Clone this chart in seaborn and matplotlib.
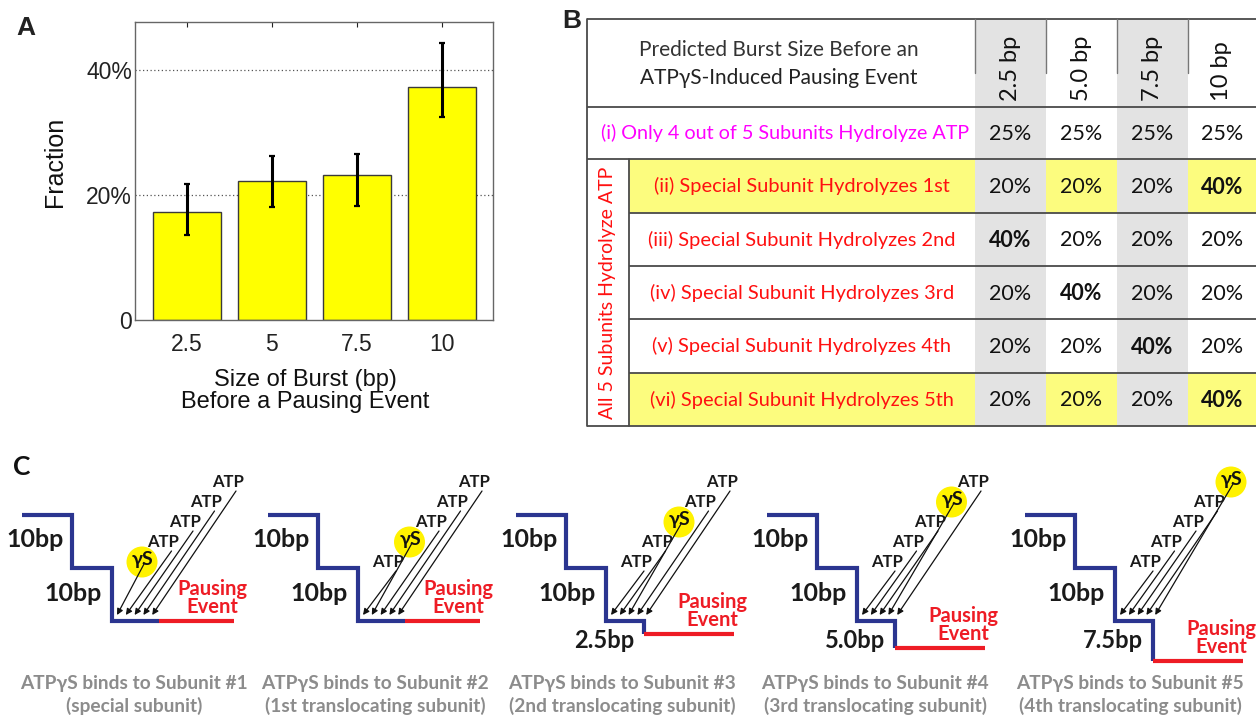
import numpy as np
import pandas as pd
import matplotlib
matplotlib.use("Agg")
import matplotlib.pyplot as plt
import seaborn as sns
from matplotlib.patches import Rectangle, Circle

# ---------------- data ----------------
# Panel A: measured burst-size distribution before a pausing event
burst_sizes = ["2.5", "5", "7.5", "10"]
fraction = [0.173, 0.222, 0.232, 0.373]
ci_low = [0.136, 0.181, 0.183, 0.325]
ci_high = [0.217, 0.263, 0.266, 0.444]

# Panel B: predicted burst-size fractions for each hydrolysis scenario
table_columns = ["2.5 bp", "5.0 bp", "7.5 bp", "10 bp"]
table_title = ["Predicted Burst Size Before an", "ATPγS-Induced Pausing Event"]
scenario_labels = [
    "(i) Only 4 out of 5 Subunits Hydrolyze ATP",
    "(ii) Special Subunit Hydrolyzes 1st",
    "(iii) Special Subunit Hydrolyzes 2nd",
    "(iv) Special Subunit Hydrolyzes 3rd",
    "(v) Special Subunit Hydrolyzes 4th",
    "(vi) Special Subunit Hydrolyzes 5th",
]
group_label = "All 5 Subunits Hydrolyze ATP"
predicted_pct = [
    [25, 25, 25, 25],
    [20, 20, 20, 40],
    [40, 20, 20, 20],
    [20, 40, 20, 20],
    [20, 20, 40, 20],
    [20, 20, 20, 40],
]
highlighted_rows = [1, 5]

# Panel C: step schematics, ATPγS bound to subunit 1..5
step_bp = 10.0
gamma_s_slot = [0, 1, 2, 3, 4]
final_burst_bp = [0.0, 0.0, 2.5, 5.0, 7.5]
burst_labels = ["", "", "2.5bp", "5.0bp", "7.5bp"]
captions_top = [f"ATPγS binds to Subunit #{i}" for i in range(1, 6)]
captions_bottom = ["(special subunit)", "(1st translocating subunit)",
                   "(2nd translocating subunit)", "(3rd translocating subunit)",
                   "(4th translocating subunit)"]

# ---------------- figure ----------------
W, H = 1256, 717
sns.set_theme(style="white")
plt.rcParams["font.family"] = ["Liberation Sans", "DejaVu Sans"]
fig = plt.figure(figsize=(W / 100, H / 100), dpi=100)


def px_axes(x0, y0, x1, y1, **kw):
    return fig.add_axes([x0 / W, 1 - y1 / H, (x1 - x0) / W, (y1 - y0) / H], **kw)


canvas = px_axes(0, 0, W, H, zorder=0)
canvas.set_xlim(0, W)
canvas.set_ylim(H, 0)
canvas.axis("off")

CAL = ["Lato", "DejaVu Sans"]

# ---------------- panel A ----------------
ax = px_axes(135, 22, 493, 320, zorder=2)
df = pd.DataFrame({"burst": burst_sizes, "fraction": fraction})
sns.barplot(data=df, x="burst", y="fraction", color="#ffff00", saturation=1,
            edgecolor="#3a3a3a", linewidth=1.0, width=0.8, errorbar=None,
            ax=ax, zorder=2)
xpos = np.arange(len(burst_sizes))
f = np.asarray(fraction)
ax.errorbar(xpos, f, yerr=[f - np.asarray(ci_low), np.asarray(ci_high) - f],
            fmt="none", ecolor="black", elinewidth=2.2, capsize=2.5,
            capthick=1.6, zorder=3)
for yv in (0.2, 0.4):
    ax.axhline(yv, color="#555555", lw=0.9, ls=(0, (1, 2)), zorder=1)
ax.set_xlim(-0.61, 3.6)
ax.set_ylim(0, 0.477)
ax.set_yticks([0, 0.2, 0.4])
ax.set_yticklabels(["0", "20%", "40%"])
ax.tick_params(axis="both", direction="in", length=3.5, width=0.8,
               colors="#222222", labelsize=16.5, top=True, right=False)
ax.tick_params(axis="x", pad=9)
ax.tick_params(axis="y", pad=2)
for sp in ax.spines.values():
    sp.set_color("#666666")
    sp.set_linewidth(1.0)
ax.set_ylabel("Fraction", fontsize=18, color="#111111")
ax.yaxis.set_label_coords(-0.19, 0.53)
ax.set_xlabel("Size of Burst (bp)\nBefore a Pausing Event", fontsize=17,
              color="#111111", linespacing=1.05)
ax.xaxis.set_label_coords(0.475, -0.163)
ax.xaxis.label.set_va("top")

canvas.text(26, 28, "A", fontsize=19, fontweight="bold", ha="center",
            va="center", color="#222222")

# ---------------- panel B ----------------
t_left, t_right, lab_split = 587, 1256, 629
col_edges = [975, 1046, 1117, 1188, 1256]
row_edges = [19, 107, 159, 213, 266, 319, 373, 426]
grey, yellow, line_c = "#e3e3e3", "#fcfc7e", "#4a4a4a"

for r in highlighted_rows:
    y0, y1 = row_edges[r + 1], row_edges[r + 2]
    canvas.add_patch(Rectangle((lab_split, y0), col_edges[0] - lab_split, y1 - y0,
                               color=yellow, lw=0, zorder=1))
    for c in (1, 3):
        canvas.add_patch(Rectangle((col_edges[c], y0), col_edges[c + 1] - col_edges[c],
                                   y1 - y0, color=yellow, lw=0, zorder=1))
for c in (0, 2):
    canvas.add_patch(Rectangle((col_edges[c], row_edges[0]), col_edges[c + 1] - col_edges[c],
                               row_edges[-1] - row_edges[0], color=grey, lw=0, zorder=1))

for k, y in enumerate(row_edges):
    x_start = t_left if k in (0, 1, 2, len(row_edges) - 1) else lab_split
    canvas.plot([x_start, t_right], [y, y], color=line_c, lw=1.3, zorder=3,
                solid_capstyle="butt")
canvas.plot([t_left, t_left], [row_edges[0], row_edges[-1]], color=line_c, lw=1.3, zorder=3)
canvas.plot([lab_split, lab_split], [row_edges[2], row_edges[-1]], color=line_c, lw=1.3, zorder=3)
for x in col_edges[:-1]:
    canvas.plot([x, x], [row_edges[0], 73], color="#777777", lw=1.0, zorder=3)

canvas.text((t_left + col_edges[0]) / 2 - 2, 50, table_title[0], family=CAL, fontsize=15,
            ha="center", va="center", color="#333333", zorder=4)
canvas.text((t_left + col_edges[0]) / 2 - 2, 78, table_title[1], family=CAL, fontsize=15,
            ha="center", va="center", color="#222222", zorder=4)
for c, lab in enumerate(table_columns):
    cx = (col_edges[c] + col_edges[c + 1]) / 2 if c < 3 else 1222
    canvas.text(cx, 101, lab, family=CAL, fontsize=17, rotation=90, ha="center",
                va="bottom", color="#111111", zorder=4)

for r, lab in enumerate(scenario_labels):
    yc = (row_edges[r + 1] + row_edges[r + 2]) / 2
    if r == 0:
        canvas.text(785, yc, lab, family=CAL, fontsize=14.2, ha="center", va="center",
                    color="#ff00ff", zorder=4)
    else:
        canvas.text((lab_split + col_edges[0]) / 2, yc, lab, family=CAL, fontsize=14.4,
                    ha="center", va="center", color="#ff1010", zorder=4)
    for c, v in enumerate(predicted_pct[r]):
        cx = (col_edges[c] + col_edges[c + 1]) / 2 if c < 3 else 1222
        canvas.text(cx, yc + 1, f"{v}%", family=CAL, fontsize=15.5,
                    fontweight="bold" if v == 40 else "normal",
                    ha="center", va="center", color="#111111", zorder=4)
canvas.text((t_left + lab_split) / 2, (row_edges[2] + row_edges[-1]) / 2, group_label,
            family=CAL, fontsize=14, rotation=90, ha="center", va="center",
            color="#ff1010", zorder=4)
canvas.text(572, 21, "B", fontsize=19, fontweight="bold", ha="center", va="center",
            color="#222222")

# ---------------- panel C ----------------
panel_x0 = [22, 268, 516, 767, 1025]
caption_x = [134, 375, 622, 875, 1130]
top_y, px_per_bp = 515, 5.3
blue, red = "#2b3590", "#ee1c25"

for i in range(5):
    x0 = panel_x0[i]
    y_mid = top_y + step_bp * px_per_bp
    y_low = top_y + 2 * step_bp * px_per_bp
    burst = final_burst_bp[i]
    if burst > 0:
        x_end = x0 + 128
        y_end = y_low + burst * px_per_bp
        xs = [x0, x0 + 50, x0 + 50, x0 + 90, x0 + 90, x_end, x_end]
        ys = [top_y, top_y, y_mid, y_mid, y_low, y_low, y_end]
        red_len = 90
    else:
        x_end = x0 + 137
        y_end = y_low
        xs = [x0, x0 + 50, x0 + 50, x0 + 90, x0 + 90, x_end]
        ys = [top_y, top_y, y_mid, y_mid, y_low, y_low]
        red_len = 75
    canvas.plot(xs, ys, color=blue, lw=3.0, solid_joinstyle="miter",
                solid_capstyle="butt", zorder=3)
    canvas.plot([x_end, x_end + red_len], [y_end, y_end], color=red, lw=3.0,
                solid_capstyle="butt", zorder=3)

    bold = dict(family=CAL, fontweight="bold", zorder=5)
    canvas.text(x0 + 42, top_y + step_bp * px_per_bp / 2 - 2, "10bp", fontsize=18,
                ha="right", va="center", color="#1a1a1a", **bold)
    canvas.text(x0 + 80, y_mid + step_bp * px_per_bp / 2 - 1, "10bp", fontsize=18,
                ha="right", va="center", color="#1a1a1a", **bold)
    if burst_labels[i]:
        canvas.text(x_end - 10, y_low + 20, burst_labels[i], fontsize=17,
                    ha="right", va="center", color="#1a1a1a", **bold)
    canvas.text(x_end + red_len - 22, y_end - 32, "Pausing", fontsize=14.5,
                ha="center", va="center", color=red, **bold)
    canvas.text(x_end + red_len - 22, y_end - 14, "Event", fontsize=14.5,
                ha="center", va="center", color=red, **bold)

    cx, cy = x0 + 90, y_low
    for k in range(5):
        tip = (cx + 5 + 8.8 * k, cy - 6)
        lab = (cx + 30 + 21.5 * k, cy - 59 - 20 * k)
        if k == gamma_s_slot[i]:
            canvas.add_patch(Circle(lab, 15.5, color="#fff200", lw=0, zorder=2))
            start = (lab[0] + 2, lab[1] + 2)
            canvas.text(lab[0] + 1, lab[1] - 2, "γS", fontsize=14, ha="center",
                        va="center", color="#111111", **bold)
        else:
            start = (lab[0] + 8, lab[1] + 9)
            canvas.text(lab[0], lab[1], "ATP", fontsize=12, ha="center",
                        va="center", color="#1a1a1a", **bold)
        canvas.annotate("", xy=tip, xytext=start,
                        arrowprops=dict(arrowstyle="-|>", lw=0.9, color="#111111",
                                        mutation_scale=9, shrinkA=0, shrinkB=0),
                        zorder=4)

    canvas.text(caption_x[i], 683, captions_top[i], fontsize=13.8, ha="center",
                va="center", color="#8c8c8c", **bold)
    canvas.text(caption_x[i], 706, captions_bottom[i], fontsize=13.8, ha="center",
                va="center", color="#8c8c8c", **bold)

canvas.text(22, 467, "C", fontsize=19, fontweight="bold", family=CAL, ha="center",
            va="center", color="#111111")

fig.savefig("out.png", dpi=100)
